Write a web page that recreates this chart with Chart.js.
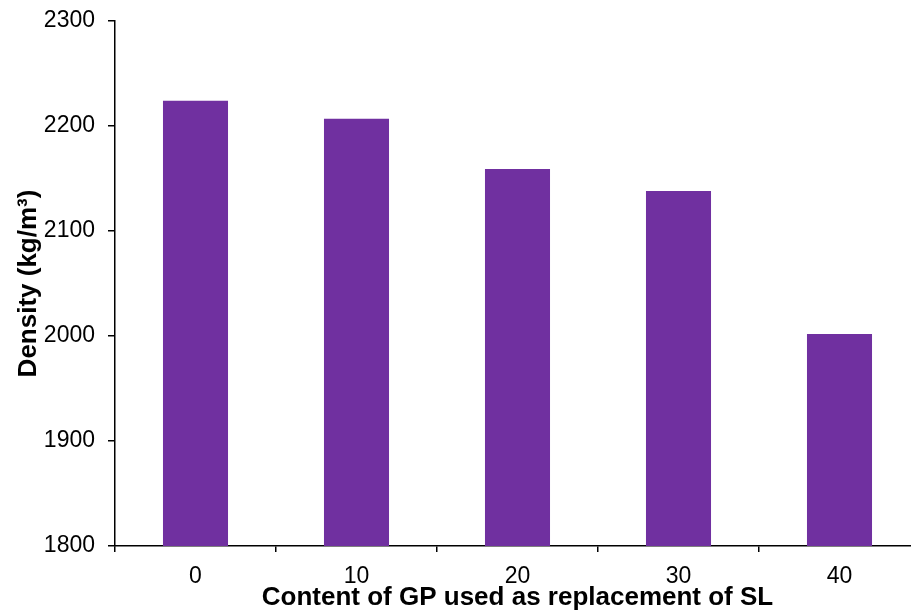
<!DOCTYPE html>
<html>
<head>
<meta charset="utf-8">
<script src="https://cdn.jsdelivr.net/npm/chart.js@4/dist/chart.umd.min.js"></script>
<style>
  html, body { margin: 0; padding: 0; background: #fff; overflow: hidden; }
  #wrap { width: 925px; height: 613px; }
</style>
</head>
<body>
<div id="wrap"><canvas id="chart-density" width="925" height="613"></canvas></div>
<script>
// data
const contentLabels = ['0', '10', '20', '30', '40'];
const densityValues = [2224, 2207, 2159, 2138, 2002];
const yTicks = [1800, 1900, 2000, 2100, 2200, 2300];

const ctx = document.getElementById('chart-density').getContext('2d');

new Chart(ctx, {
    type: 'bar',
    data: {
        labels: contentLabels,
        datasets: [
            {
                data: densityValues,
                backgroundColor: '#7030A0',
                borderWidth: 0,
                categoryPercentage: 1,
                barPercentage: 0.404
            }
        ]
    },
    options: {
        responsive: false,
        animation: false,
        layout: {
            padding: { top: 21, right: 5, bottom: 0, left: 0 }
        },
        plugins: {
            legend: { display: false },
            tooltip: { enabled: false }
        },
        scales: {
            x: {
                grid: {
                    display: true,
                    drawOnChartArea: false,
                    drawTicks: true,
                    tickLength: 6,
                    color: '#000',
                    lineWidth: 1.5,
                    offset: true
                },
                border: { display: true, color: '#000', width: 1.5 },
                ticks: {
                    color: '#000',
                    padding: 11,
                    font: { family: 'Liberation Sans, Arial, sans-serif', size: 23 }
                },
                title: {
                    display: true,
                    text: 'Content of GP used as replacement of SL',
                    color: '#000',
                    padding: { top: 0, bottom: 0 },
                    font: { family: 'Liberation Sans, Arial, sans-serif', size: 26, weight: 'bold' }
                },
                afterFit: (scale) => {
                    scale.height = 67;
                    scale.paddingLeft = 0;
                    scale.paddingRight = 0;
                }
            },
            y: {
                min: 1800,
                max: 2300,
                afterBuildTicks: (scale) => {
                    scale.ticks = yTicks.map(v => ({ value: v }));
                },
                grid: {
                    display: true,
                    drawOnChartArea: false,
                    drawTicks: true,
                    tickLength: 7,
                    color: '#000',
                    lineWidth: 1.5
                },
                border: { display: true, color: '#000', width: 1.5 },
                ticks: {
                    color: '#000',
                    padding: 13,
                    callback: (value) => String(value),
                    font: { family: 'Liberation Sans, Arial, sans-serif', size: 23 }
                },
                title: {
                    display: true,
                    text: 'Density (kg/m³)',
                    color: '#000',
                    padding: { top: 13, bottom: 0 },
                    font: { family: 'Liberation Sans, Arial, sans-serif', size: 26, weight: 'bold' }
                },
                afterFit: (scale) => {
                    scale.width = 115;
                    scale.paddingTop = 0;
                    scale.paddingBottom = 0;
                }
            }
        }
    }
});
</script>
</body>
</html>
